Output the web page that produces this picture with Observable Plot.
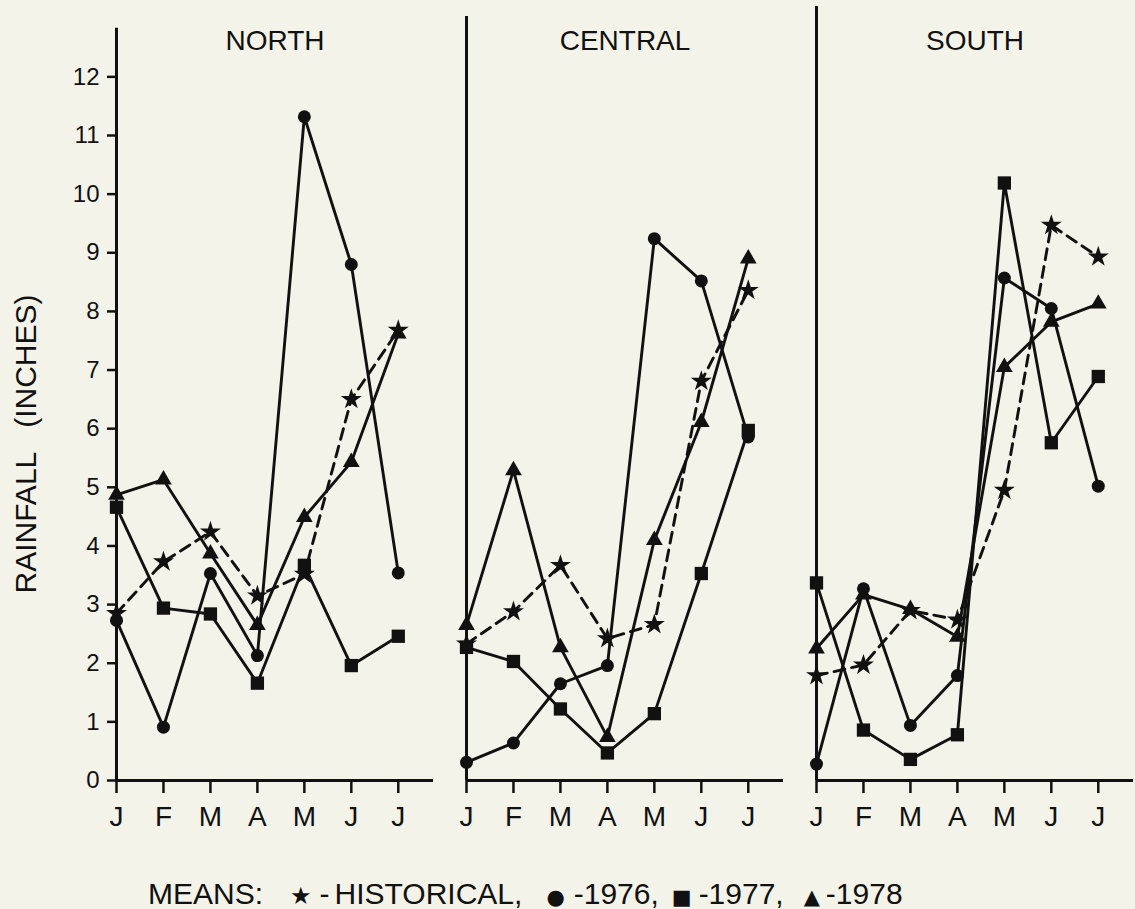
<!DOCTYPE html>
<html>
<head>
<meta charset="utf-8">
<script src="https://cdn.jsdelivr.net/npm/d3@7"></script>
<script src="https://cdn.jsdelivr.net/npm/@observablehq/plot@0.6"></script>
<style>
  html, body { margin: 0; padding: 0; background: #f4f3e9; }
  #wrap { position: relative; width: 1135px; height: 909px; overflow: hidden; font-family: "Liberation Sans", Arial, sans-serif; color: #111; }
  #ylabel { position: absolute; left: 26px; top: 444px; transform: translate(-50%, -50%) rotate(-90deg); font-size: 30px; white-space: pre; }
  #legend { position: absolute; left: 148px; top: 877px; display: flex; align-items: baseline; font-size: 30px; line-height: 34px; white-space: pre; }
  #legend .sym { font-family: "DejaVu Sans", sans-serif; font-size: 21px; line-height: 20px; }
  #legend .star { font-size: 24px; margin: 0 8px 0 27px; }
  #legend .dash { margin-right: 5px; }
  #legend .circ { margin: 0 9px 0 24px; }
  #legend .sq { margin: 0 7px 0 13px; }
  #legend .tri { margin: 0 6px 0 20px; }
</style>
</head>
<body>
<div id="wrap">
  <div id="chart"></div>
  <div id="ylabel">RAINFALL   (INCHES)</div>
  <div id="legend"><span>MEANS:</span><span class="sym star">★</span><span class="dash">-</span><span>HISTORICAL,</span><span class="sym circ">●</span><span>-1976,</span><span class="sym sq">■</span><span>-1977,</span><span class="sym tri">▲</span><span>-1978</span></div>
</div>
<script>
const regions = ["NORTH", "CENTRAL", "SOUTH"];
const months = ["J", "F", "M", "A", "M", "J", "J"];
const series = ["HISTORICAL", "1976", "1977", "1978"];
const yTicks = [0, 1, 2, 3, 4, 5, 6, 7, 8, 9, 10, 11, 12];

const northHistorical = [2.85, 3.73, 4.24, 3.15, 3.52, 6.50, 7.68];
const north1976       = [2.73, 0.91, 3.53, 2.13, 11.32, 8.80, 3.54];
const north1977       = [4.66, 2.94, 2.84, 1.66, 3.67, 1.96, 2.46];
const north1978       = [4.87, 5.13, 3.87, 2.65, 4.49, 5.43, 7.62];

const centralHistorical = [2.33, 2.88, 3.67, 2.42, 2.66, 6.81, 8.36];
const central1976       = [0.31, 0.64, 1.65, 1.96, 9.24, 8.52, 5.86];
const central1977       = [2.27, 2.03, 1.22, 0.47, 1.14, 3.53, 5.97];
const central1978       = [2.65, 5.29, 2.27, 0.74, 4.10, 6.11, 8.90];

const southHistorical = [1.79, 1.97, 2.90, 2.74, 4.95, 9.47, 8.93];
const south1976       = [0.28, 3.27, 0.94, 1.79, 8.57, 8.05, 5.02];
const south1977       = [3.37, 0.86, 0.36, 0.78, 10.19, 5.76, 6.89];
const south1978       = [2.25, 3.17, 2.92, 2.45, 7.05, 7.82, 8.13];

const table = [
  [northHistorical, north1976, north1977, north1978],
  [centralHistorical, central1976, central1977, central1978],
  [southHistorical, south1976, south1977, south1978]
];
const rows = [];
regions.forEach((region, ri) =>
  series.forEach((s, si) =>
    table[ri][si].forEach((value, m) => rows.push({region, series: s, m, value}))));

const axisTop = {NORTH: 12.83, CENTRAL: 13.03, SOUTH: 13.2};
const ink = "#111";
const of = s => d => d.series === s;

const chart = Plot.plot({
  width: 1135,
  height: 840,
  marginLeft: 115,
  marginRight: 0,
  marginTop: 6,
  marginBottom: 60,
  style: {background: "transparent", fontFamily: "Liberation Sans, Arial, sans-serif", color: ink},
  fx: {domain: regions, paddingInner: 0.094, paddingOuter: 0, axis: null},
  x: {domain: [0, 6.75], axis: null},
  y: {domain: [0, 13.2], axis: null},
  marks: [
    Plot.axisY({ticks: yTicks, tickSize: 9, tickPadding: 8, fontSize: 24, strokeWidth: 2.5, label: null}),
    Plot.axisX({ticks: d3.range(months.length), tickFormat: i => months[i], tickSize: 13, tickPadding: 13, fontSize: 28, strokeWidth: 2.5, label: null}),
    Plot.ruleY([0], {stroke: ink, strokeWidth: 3}),
    Plot.ruleX(regions, {fx: d => d, x: 0, y1: 0, y2: d => axisTop[d], stroke: ink, strokeWidth: 3}),
    Plot.text(regions, {fx: d => d, text: d => d, frameAnchor: "top", dy: 24, fontSize: 28, fill: ink}),
    Plot.line(rows, {filter: of("HISTORICAL"), fx: "region", x: "m", y: "value", stroke: ink, strokeWidth: 2.9, strokeDasharray: "11,7"}),
    Plot.line(rows, {filter: d => d.series !== "HISTORICAL", fx: "region", x: "m", y: "value", z: "series", stroke: ink, strokeWidth: 2.9}),
    Plot.dot(rows, {filter: of("HISTORICAL"), fx: "region", x: "m", y: "value", symbol: "star", r: 6.6, fill: ink}),
    Plot.dot(rows, {filter: of("1976"), fx: "region", x: "m", y: "value", symbol: "circle", r: 6.5, fill: ink}),
    Plot.dot(rows, {filter: of("1977"), fx: "region", x: "m", y: "value", symbol: "square", r: 7.5, fill: ink}),
    Plot.dot(rows, {filter: of("1978"), fx: "region", x: "m", y: "value", symbol: "triangle", r: 6.2, fill: ink})
  ]
});
document.getElementById("chart").appendChild(chart);
</script>
</body>
</html>
